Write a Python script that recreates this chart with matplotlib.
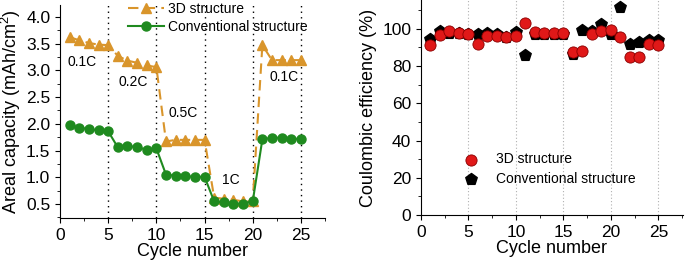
import numpy as np
import matplotlib
matplotlib.use("Agg")
import matplotlib.pyplot as plt
from matplotlib.ticker import MultipleLocator

plt.rcParams["font.family"] = ["Liberation Sans", "DejaVu Sans"]
plt.rcParams["mathtext.fontset"] = "custom"
plt.rcParams["mathtext.rm"] = "Liberation Sans"

cycles = np.arange(1, 26)

cap_3d = [3.62, 3.56, 3.51, 3.48, 3.47, 3.27, 3.18, 3.14, 3.09, 3.06,
          1.67, 1.70, 1.70, 1.70, 1.70, 0.62, 0.60, 0.58, 0.55, 0.55,
          3.47, 3.19, 3.19, 3.19, 3.19]
cap_conv = [1.97, 1.93, 1.90, 1.88, 1.86, 1.56, 1.58, 1.57, 1.51, 1.54,
            1.05, 1.03, 1.02, 1.01, 1.01, 0.55, 0.53, 0.51, 0.51, 0.55,
            1.71, 1.74, 1.74, 1.72, 1.72]

ce_3d = [91.5, 96.5, 99, 98, 97.5, 92, 96, 96, 95.5, 96,
         103, 98.5, 98, 98, 98, 87.5, 88, 97, 99, 99.5,
         95.5, 85, 85, 92, 91.5]
ce_conv = [94.5, 99, 98, 98, 97.5, 97.5, 98, 97, 95.5, 98.5,
           86, 97, 97.5, 97.5, 97.5, 86.5, 99.5, 99, 102.5, 97.5,
           111.5, 92, 93, 94, 94]

rate_labels = ["0.1C", "0.2C", "0.5C", "1C", "0.1C"]
rate_xy = [(2.25, 3.16), (7.6, 2.79), (12.8, 2.21), (17.7, 0.95), (23.2, 2.88)]
dividers = [5, 10, 15, 20, 25]

orange = "#D9952B"
green = "#1F8A1F"

fig = plt.figure(figsize=(6.85, 2.61), dpi=100)
W, H = 685, 261
ax1 = fig.add_axes([60 / W, 1 - 218 / H, 265 / W, 213 / H])
ax2 = fig.add_axes([421 / W, 1 - 215 / H, 262 / W, 215 / H])

# left panel: areal capacity
for d in dividers:
    ax1.axvline(d, color="black", ls=(0, (1, 3)), lw=1.0, zorder=1)
ax1.plot(cycles, cap_3d, ls=(0, (5, 3)), color=orange, lw=1.5, marker="^",
         ms=7, label="3D structure", zorder=3)
ax1.plot(cycles, cap_conv, ls="-", color=green, lw=1.5, marker="o",
         ms=6.5, label="Conventional structure", zorder=3)
for lab, (x, y) in zip(rate_labels, rate_xy):
    ax1.text(x, y, lab, ha="center", va="center", fontsize=10)
ax1.set_xlim(0, 27.5)
ax1.set_ylim(0.24, 4.22)
ax1.xaxis.set_major_locator(MultipleLocator(5))
ax1.xaxis.set_minor_locator(MultipleLocator(2.5))
ax1.yaxis.set_major_locator(MultipleLocator(0.5))
ax1.yaxis.set_minor_locator(MultipleLocator(0.25))
ax1.set_xlabel("Cycle number", fontsize=13, labelpad=0)
ax1.set_ylabel("Areal capacity (mAh/cm$^2$)", fontsize=13, labelpad=2)
ax1.legend(loc="upper left", bbox_to_anchor=(0.235, 1.04), frameon=False,
           fontsize=10, handlelength=2.6, borderaxespad=0, labelspacing=0.25,
           handletextpad=0.3)

# right panel: coulombic efficiency
for d in dividers:
    ax2.axvline(d, color="#B0B0B0", ls=(0, (1, 2)), lw=0.8, zorder=1)
ax2.scatter(cycles, ce_conv, marker="p", s=75, color="black",
            label="Conventional structure", zorder=3)
ax2.scatter(cycles, ce_3d, marker="o", s=65, color="#E01818",
            edgecolor="#8A0000", linewidth=0.6, label="3D structure", zorder=4)
ax2.set_xlim(0, 27.6)
ax2.set_ylim(0, 115.5)
ax2.xaxis.set_major_locator(MultipleLocator(5))
ax2.xaxis.set_minor_locator(MultipleLocator(2.5))
ax2.yaxis.set_major_locator(MultipleLocator(20))
ax2.yaxis.set_minor_locator(MultipleLocator(10))
ax2.set_xlabel("Cycle number", fontsize=13, labelpad=0)
ax2.set_ylabel("Coulombic efficiency (%)", fontsize=13, labelpad=4)
h, l = ax2.get_legend_handles_labels()
ax2.legend(h[::-1], l[::-1], loc="upper left", bbox_to_anchor=(0.115, 0.318),
           frameon=False, fontsize=10, borderaxespad=0, labelspacing=0.4,
           handletextpad=0.8)

for ax in (ax1, ax2):
    ax.spines["top"].set_visible(False)
    ax.spines["right"].set_visible(False)
    ax.tick_params(which="major", direction="out", length=3.5, labelsize=12.5)
    ax.tick_params(which="minor", direction="out", length=2)

fig.savefig("out.png", dpi=100)
